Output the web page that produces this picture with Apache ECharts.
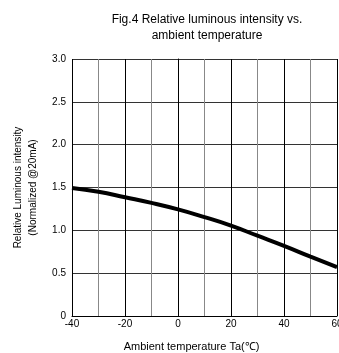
<!DOCTYPE html>
<html>
<head>
<meta charset="utf-8">
<script src="https://cdn.jsdelivr.net/npm/echarts@6/dist/echarts.min.js"></script>
<style>
    html, body {margin:0;padding:0;background:#ffffff;}
    #chart {width:339px;height:353px;}
</style>
</head>
<body>
<div id="chart"></div>
<script>
    // temperature (°C) and relative luminous intensity
    var temps = [-40, -30, -20, -10, 0, 10, 20, 30, 40, 50, 60];
    var intensity = [1.495, 1.45, 1.386, 1.32, 1.244, 1.154, 1.055, 0.937, 0.819, 0.693, 0.571];
    var yTicks = ['0', '0.5', '1.0', '1.5', '2.0', '2.5', '3.0'];

    var font = '"Liberation Sans", Arial, sans-serif';
    var chart = echarts.init(document.getElementById('chart'));

    var pts = [];
    for (var i = 0; i < temps.length; i++) {
        pts.push([temps[i], intensity[i]]);
    }

    chart.setOption({
        animation: false,
        title: {
            text: 'Fig.4 Relative luminous intensity vs.\nambient temperature',
            left: 202,
            top: 7,
            textAlign: 'center',
            textStyle: {fontFamily: font, fontSize: 12, fontWeight: 'normal', color: '#000', lineHeight: 16}
        },
        grid: {left: 72, top: 59, width: 265, height: 257, outerBoundsMode: 'none'},
        xAxis: {
            type: 'value',
            min: -40, max: 60, interval: 20,
            name: 'Ambient temperature Ta(℃)',
            nameLocation: 'middle',
            nameGap: 25,
            nameTextStyle: {fontFamily: font, fontSize: 11, color: '#000', padding: [0, 26, 0, 0]},
            axisLine: {lineStyle: {color: '#000', width: 1}},
            axisTick: {show: false},
            axisLabel: {fontFamily: font, fontSize: 10, color: '#000', margin: 3},
            splitLine: {show: true, lineStyle: {color: '#000', width: 1}},
            minorTick: {show: false, splitNumber: 2},
            minorSplitLine: {show: true, lineStyle: {color: '#888', width: 1}}
        },
        yAxis: {
            type: 'value',
            min: 0, max: 3, interval: 0.5,
            name: 'Relative Luminous intensity\n(Normalized @20mA)',
            nameLocation: 'middle',
            nameGap: 31,
            nameRotate: 90,
            nameTextStyle: {fontFamily: font, fontSize: 10, color: '#000', lineHeight: 15},
            axisLine: {show: true, lineStyle: {color: '#000', width: 1}},
            axisTick: {show: false},
            axisLabel: {
                fontFamily: font, fontSize: 10, color: '#000', margin: 6,
                formatter: function (v) { return yTicks[Math.round(v / 0.5)]; }
            },
            splitLine: {show: true, lineStyle: {color: '#333', width: 1}}
        },
        series: [{
            type: 'line',
            data: pts,
            smooth: true,
            symbol: 'none',
            lineStyle: {color: '#000', width: 4}
        }]
    });
</script>
</body>
</html>
